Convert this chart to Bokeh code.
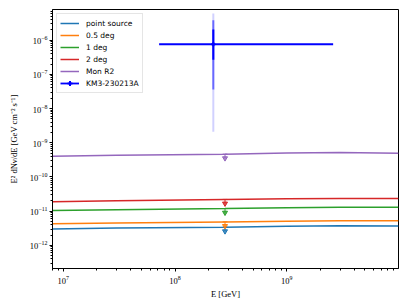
from bokeh.plotting import figure
from bokeh.models import FixedTicker, Legend, LegendItem
from bokeh.embed import file_html
from bokeh.resources import INLINE

# ---- data ----
energy = [8e6, 3e7, 2.8e8, 1e9, 3e9, 1e10]
point_source = [3.0e-12, 3.2e-12, 3.4e-12, 3.6e-12, 3.75e-12, 3.7e-12]
deg_0p5 = [4.25e-12, 4.5e-12, 4.85e-12, 5.1e-12, 5.25e-12, 5.2e-12]
deg_1 = [1.05e-11, 1.1e-11, 1.19e-11, 1.26e-11, 1.3e-11, 1.29e-11]
deg_2 = [1.88e-11, 2.0e-11, 2.2e-11, 2.3e-11, 2.36e-11, 2.35e-11]
mon_r2 = [4.05e-10, 4.3e-10, 4.65e-10, 5.0e-10, 5.15e-10, 4.95e-10]

series_names = ["point source", "0.5 deg", "1 deg", "2 deg", "Mon R2"]
series_values = [point_source, deg_0p5, deg_1, deg_2, mon_r2]
series_colors = ["#1f77b4", "#ff7f0e", "#2ca02c", "#d62728", "#9467bd"]

# upper limits at the event energy
ul_energy = 2.8e8
ul_values = [3.4e-12, 4.85e-12, 1.19e-11, 2.2e-11, 4.65e-10]

# KM3-230213A
km3_E = 2.2e8
km3_E_lo = 7.2e7
km3_E_hi = 2.6e9
km3_F = 7.6e-7
km3_F_bands = [(2.1e-9, 6.06e-6), (3.6e-8, 3.86e-6), (2.7e-7, 2.06e-6)]
km3_band_alpha = [0.18, 0.5, 1.0]

x_ticks = [1e7, 1e8, 1e9]
y_ticks = [1e-12, 1e-11, 1e-10, 1e-9, 1e-8, 1e-7, 1e-6]

p = figure(width=407, height=305, x_axis_type="log", y_axis_type="log",
           x_range=(8e6, 1e10), y_range=(2.1e-13, 7.9e-6),
           output_backend="svg", toolbar_location=None,
           min_border_left=52, min_border_right=9, min_border_top=9, min_border_bottom=37)
p.grid.visible = False
p.outline_line_color = "black"
p.outline_line_width = 1
p.background_fill_color = "white"

SERIF = "Liberation Serif"
for ax in (p.xaxis[0], p.yaxis[0]):
    ax.axis_line_color = "black"
    ax.major_tick_line_color = "black"
    ax.minor_tick_line_color = "black"
    ax.major_tick_in = 0
    ax.major_tick_out = 3
    ax.minor_tick_in = 0
    ax.minor_tick_out = 2
    ax.major_label_text_font = SERIF
    ax.major_label_text_font_size = "8.5px"
    ax.major_label_text_color = "black"
    ax.axis_label_text_font = SERIF
    ax.axis_label_text_font_size = "8.5px"
    ax.axis_label_text_font_style = "normal"
    ax.axis_label_text_color = "black"

xminor = [m * 10.0**k for k in range(6, 10) for m in range(2, 10)]
yminor = [m * 10.0**k for k in range(-14, -5) for m in range(2, 10)]
p.xaxis[0].ticker = FixedTicker(ticks=x_ticks, minor_ticks=xminor)
p.yaxis[0].ticker = FixedTicker(ticks=y_ticks, minor_ticks=yminor)
p.xaxis[0].axis_label = "E [GeV]"
p.yaxis[0].axis_label = "E² dNν/dE [GeV cm⁻² s⁻¹]"
p.xaxis[0].axis_label_standoff = 2
p.yaxis[0].axis_label_standoff = 8
p.xaxis[0].major_label_standoff = 4
p.yaxis[0].major_label_standoff = 2

items = []
for name, vals, col, ul in zip(series_names, series_values, series_colors, ul_values):
    r = p.line(energy, vals, line_color=col, line_width=1.5)
    items.append(LegendItem(label=name, renderers=[r]))
    # upper-limit arrow
    p.segment(x0=[ul_energy / 1.05], x1=[ul_energy * 1.05], y0=[ul], y1=[ul], line_color=col, line_width=1)
    p.segment(x0=[ul_energy], x1=[ul_energy], y0=[ul], y1=[ul * 10**-0.12], line_color=col, line_width=1)
    p.scatter(x=[ul_energy], y=[ul * 10**-0.12], marker="inverted_triangle", size=5,
              fill_color=col, line_color=col, fill_alpha=0.8)

# KM3 crosshair
for (lo, hi), a in zip(km3_F_bands, km3_band_alpha):
    p.segment(x0=[km3_E], x1=[km3_E], y0=[lo], y1=[hi], line_color="#0000ff", line_alpha=a, line_width=2)
hbar = p.segment(x0=[km3_E_lo], x1=[km3_E_hi], y0=[km3_F], y1=[km3_F], line_color="#0000ff", line_width=1.8)
cross = p.scatter(x=[km3_E], y=[km3_F], marker="cross", size=4, line_color="#0000ff", line_width=2)
items.append(LegendItem(label="KM3-230213A", renderers=[hbar, cross]))

legend = Legend(items=items, location="top_left")
legend.margin = 4
legend.padding = 3
legend.spacing = 0
legend.glyph_width = 19
legend.glyph_height = 12
legend.label_height = 12
legend.label_standoff = 7
legend.label_text_font = "DejaVu Sans"
legend.label_text_font_size = "7.5px"
legend.label_text_color = "black"
legend.border_line_color = "#cccccc"
legend.border_line_width = 1
legend.background_fill_alpha = 0.8
p.add_layout(legend)

open("out.html", "w").write(file_html(p, INLINE))
